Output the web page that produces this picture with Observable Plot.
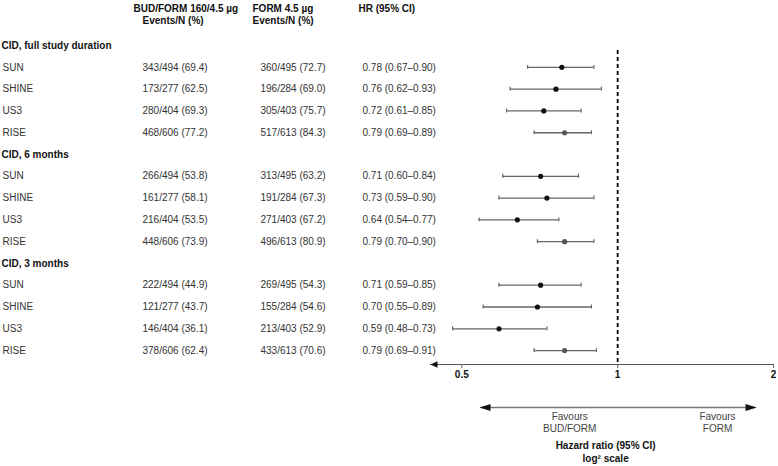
<!DOCTYPE html>
<html><head><meta charset="utf-8">
<script src="https://cdn.jsdelivr.net/npm/d3@7"></script>
<script src="https://cdn.jsdelivr.net/npm/@observablehq/plot@0.6"></script>
<style>body{margin:0;background:#fff} #chart{width:778px;height:466px}</style>
</head><body><div id="chart"></div>
<script>
const groups = ["CID, full study duration", "CID, 6 months", "CID, 3 months"];
const studies = ["SUN", "SHINE", "US3", "RISE"];
const budEvents = [343,173,280,468, 266,161,216,448, 222,121,146,378];
const budN      = [494,277,404,606, 494,277,404,606, 494,277,404,606];
const budPct    = [69.4,62.5,69.3,77.2, 53.8,58.1,53.5,73.9, 44.9,43.7,36.1,62.4];
const formEvents= [360,196,305,517, 313,191,271,496, 269,155,213,433];
const formN     = [495,284,403,613, 495,284,403,613, 495,284,403,613];
const formPct   = [72.7,69.0,75.7,84.3, 63.2,67.3,67.2,80.9, 54.3,54.6,52.9,70.6];
const hr        = [0.78,0.76,0.72,0.79, 0.71,0.73,0.64,0.79, 0.71,0.70,0.59,0.79];
const lo        = [0.67,0.62,0.61,0.69, 0.60,0.59,0.54,0.70, 0.59,0.55,0.48,0.69];
const hi        = [0.90,0.93,0.85,0.89, 0.84,0.90,0.77,0.90, 0.85,0.89,0.73,0.91];
const xTicks = [0.5, 1, 2];
const headers = ["BUD/FORM 160/4.5 µg", "Events/N (%)", "FORM 4.5 µg", "Events/N (%)", "HR (95% CI)"];

const rows = [];
groups.forEach((g, gi) => {
  rows.push({row: gi * 5, label: g, header: true});
  studies.forEach((s, si) => {
    const k = gi * 4 + si;
    rows.push({
      row: gi * 5 + si + 1, label: s, header: false, study: s,
      bud: `${budEvents[k]}/${budN[k]} (${budPct[k].toFixed(1)})`,
      form: `${formEvents[k]}/${formN[k]} (${formPct[k].toFixed(1)})`,
      hrText: `${hr[k].toFixed(2)} (${lo[k].toFixed(2)}–${hi[k].toFixed(2)})`,
      hr: hr[k], lo: lo[k], hi: hi[k]
    });
  });
});
const groupRows = rows.filter(d => d.header);
const studyRows = rows.filter(d => !d.header);

const yMax = 14.64;
const L = 430;
const headL = {draw(c){ c.moveTo(-5.5,0); c.lineTo(5.5,-3.6); c.lineTo(5.5,3.6); c.closePath(); }};
const headR = {draw(c){ c.moveTo(5.5,0); c.lineTo(-5.5,-3.6); c.lineTo(-5.5,3.6); c.closePath(); }};
const axisHead = {draw(c){ c.moveTo(-3.5,0); c.lineTo(3.5,-3.2); c.lineTo(3.5,3.2); c.closePath(); }};
const txt = (data, field, px, extra = {}) => Plot.text(data, {y: "row", text: field, frameAnchor: "left", dx: px - L, textAnchor: "start", fill: "#333", ...extra});
const hdr = (t, px, dy) => Plot.text([t], {frameAnchor: "top-left", dx: px - L, dy, lineAnchor: "top", textAnchor: "start", fontWeight: "bold", fill: "#111"});

const chart = Plot.plot({
  width: 778, height: 466,
  marginLeft: L, marginRight: 5, marginTop: 0, marginBottom: 102,
  x: {type: "log", base: 2, domain: [0.435, 2], range: [430, 773]},
  y: {domain: [-2.07, yMax], range: [0, 364], axis: null},
  color: {type: "identity"},
  style: {fontFamily: "'Liberation Sans', Arial, sans-serif", fontSize: "10px", background: "#fff"},
  marks: [
    hdr(headers[0], 133, 4), hdr(headers[1], 142, 16),
    hdr(headers[2], 252, 4), hdr(headers[3], 252, 16),
    hdr(headers[4], 358, 4),
    txt(groupRows, "label", 1, {fontWeight: "bold", fill: "#111"}),
    txt(studyRows, "label", 2),
    txt(studyRows, "bud", 142),
    txt(studyRows, "form", 260),
    txt(studyRows, "hrText", 362),
    Plot.ruleX([1], {y1: 0.22, y2: yMax, stroke: "#000", strokeWidth: 1.8, strokeDasharray: "4,3"}),
    Plot.ruleY(studyRows, {y: "row", x1: "lo", x2: "hi", stroke: "#666", strokeWidth: 1.3}),
    Plot.ruleX(studyRows, {x: "lo", y1: d => d.row - 0.09, y2: d => d.row + 0.09, stroke: "#666", strokeWidth: 1.2}),
    Plot.ruleX(studyRows, {x: "hi", y1: d => d.row - 0.09, y2: d => d.row + 0.09, stroke: "#666", strokeWidth: 1.2}),
    Plot.dot(studyRows, {x: "hr", y: "row", r: 2.6, fill: d => d.study === "RISE" ? "#555" : "#111", stroke: "none"}),
    Plot.frame({anchor: "bottom", stroke: "#555", strokeWidth: 1.2}),
    Plot.dot([0], {x: 0.435, y: yMax, symbol: axisHead, dx: 3.5, fill: "#111", stroke: "none"}),
    Plot.axisX({ticks: xTicks, tickFormat: d => String(d), tickSize: 4, tickPadding: 2, fontWeight: "bold", fontSize: 10, label: null, stroke: "#666", fill: "#111"}),
    Plot.ruleY([yMax], {x1: 0.545, x2: 1.85, dy: 43, stroke: "#777", strokeWidth: 1.5}),
    Plot.dot([0], {x: 0.541, y: yMax, dy: 43, dx: 5.5, symbol: headL, fill: "#111", stroke: "none"}),
    Plot.dot([0], {x: 1.855, y: yMax, dy: 43, dx: -5.5, symbol: headR, fill: "#111", stroke: "none"}),
    Plot.text(["Favours\nBUD/FORM"], {x: 0.808, y: yMax, dy: 48, lineAnchor: "top", lineHeight: 1.12, fill: "#444"}),
    Plot.text(["Favours\nFORM"], {x: 1.559, y: yMax, dy: 48, lineAnchor: "top", lineHeight: 1.12, fill: "#444"}),
    Plot.text(["Hazard ratio (95% CI)\nlog² scale"], {x: 0.948, y: yMax, dy: 76, lineAnchor: "top", lineHeight: 1.25, fontWeight: "bold", fill: "#111"})
  ]
});
document.getElementById("chart").appendChild(chart);
</script>
</body></html>
